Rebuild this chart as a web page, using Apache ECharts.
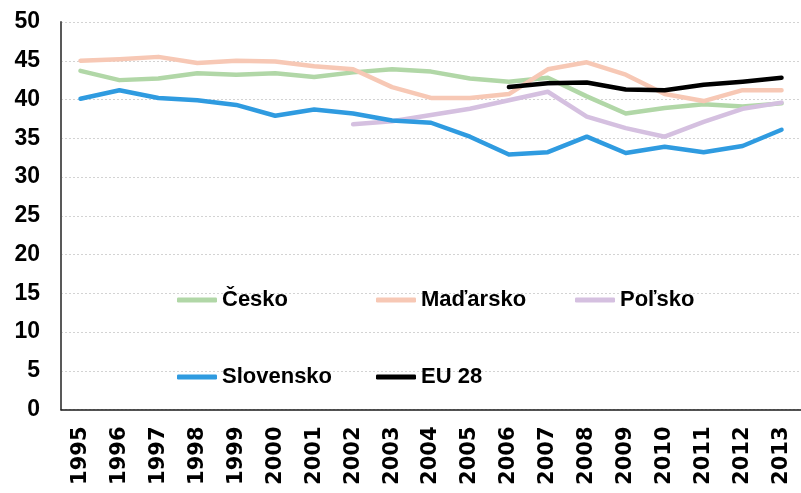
<!DOCTYPE html>
<html>
<head>
<meta charset="utf-8">
<script src="https://cdn.jsdelivr.net/npm/echarts@6/dist/echarts.min.js"></script>
<style>
  html, body { margin: 0; padding: 0; background: #fff; }
  #chart { width: 801px; height: 493px; }
</style>
</head>
<body>
<div id="chart"></div>
<script>
// roky
const years = ['1995', '1996', '1997', '1998', '1999', '2000', '2001', '2002', '2003', '2004',
  '2005', '2006', '2007', '2008', '2009', '2010', '2011', '2012', '2013'];

// hodnoty odčítané z grafu
const cesko = [43.7, 42.5, 42.7, 43.4, 43.2, 43.4, 42.9, 43.5, 43.9, 43.6,
  42.7, 42.3, 42.8, 40.4, 38.2, 38.9, 39.4, 39.1, 39.5];
const madarsko = [45.0, 45.2, 45.5, 44.7, 45.0, 44.9, 44.3, 43.9, 41.6, 40.2,
  40.2, 40.7, 43.9, 44.8, 43.2, 40.7, 39.8, 41.2, 41.2];
const polsko = [null, null, null, null, null, null, null, 36.8, 37.2, 38.0,
  38.8, 39.9, 41.0, 37.8, 36.3, 35.2, 37.1, 38.8, 39.6];
const slovensko = [40.1, 41.2, 40.2, 39.9, 39.3, 37.9, 38.7, 38.2, 37.3, 37.0,
  35.2, 32.9, 33.2, 35.2, 33.1, 33.9, 33.2, 34.0, 36.1];
const eu28 = [null, null, null, null, null, null, null, null, null, null,
  null, 41.6, 42.1, 42.2, 41.3, 41.2, 41.9, 42.3, 42.8];

const seriesDefs = [
  { name: 'Česko', data: cesko, color: '#b1d7a7' },
  { name: 'Maďarsko', data: madarsko, color: '#f7c8b5' },
  { name: 'Poľsko', data: polsko, color: '#d5c0e0' },
  { name: 'Slovensko', data: slovensko, color: '#2f9be0' },
  { name: 'EU 28', data: eu28, color: '#000000' }
];

// umiestnenie legendy
const legendPos = [
  { left: 177, top: 289 },
  { left: 376, top: 289 },
  { left: 575, top: 289 },
  { left: 177, top: 366 },
  { left: 376, top: 366 }
];

const myChart = echarts.init(document.getElementById('chart'));

const option = {
  animation: false,
  grid: {
    left: 61,
    top: 22,
    width: 750.5,
    bottom: 83.5,
    containLabel: false
  },
  legend: seriesDefs.map((s, i) => ({
    data: [s.name],
    left: legendPos[i].left,
    top: legendPos[i].top,
    padding: 0,
    icon: 'roundRect',
    itemWidth: 40,
    itemHeight: 5,
    textStyle: {
      fontFamily: 'Liberation Sans',
      fontWeight: 'bold',
      fontSize: 22,
      color: '#000'
    }
  })),
  xAxis: {
    type: 'category',
    data: years,
    boundaryGap: true,
    axisLine: { lineStyle: { color: '#1a1a1a', width: 1.5 } },
    axisTick: { show: false },
    axisLabel: {
      rotate: 90,
      margin: 17,
      interval: 0,
      fontFamily: 'DejaVu Sans',
      fontWeight: 'bold',
      fontSize: 21,
      color: '#000'
    }
  },
  yAxis: {
    type: 'value',
    min: 0,
    max: 50,
    interval: 5,
    axisLine: { show: true, lineStyle: { color: '#595959', width: 2 } },
    axisTick: { show: false },
    splitLine: { lineStyle: { color: '#d3d3d3', type: [2, 2], width: 1 } },
    axisLabel: {
      margin: 21,
      fontFamily: 'Liberation Sans',
      fontWeight: 'bold',
      fontSize: 23,
      color: '#000'
    }
  },
  series: seriesDefs.map(s => ({
    name: s.name,
    type: 'line',
    data: s.data,
    symbol: 'none',
    connectNulls: false,
    color: s.color,
    lineStyle: { color: s.color, width: 4.5, cap: 'round', join: 'round' }
  }))
};

myChart.setOption(option);
</script>
</body>
</html>
